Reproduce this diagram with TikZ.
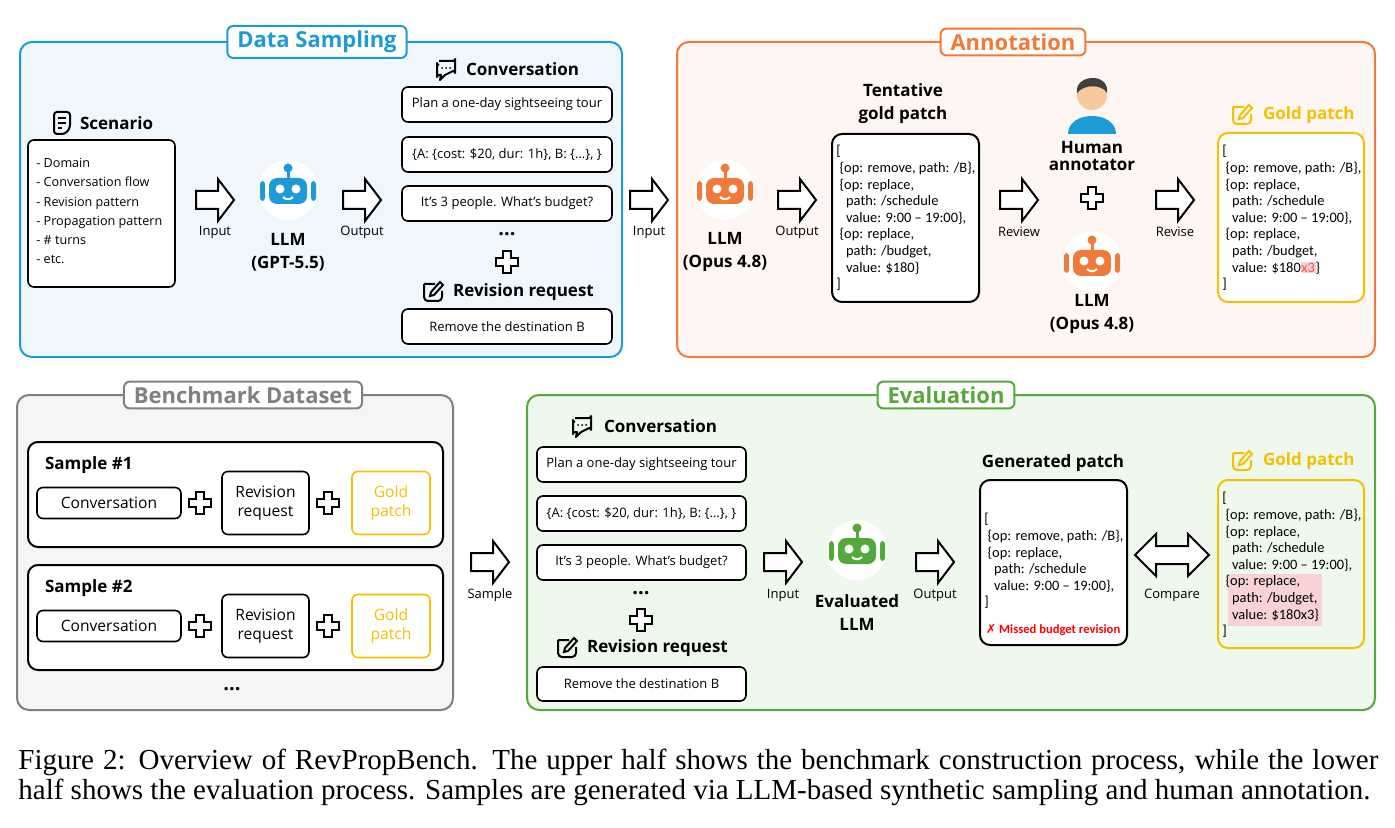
\documentclass[tikz,border=0pt]{standalone}
\usepackage{fontspec}
\setmainfont{Open Sans}
\newfontfamily\pf{Carlito}
\newfontfamily\dvs{DejaVu Sans}
\newfontfamily\capfont{Liberation Serif}
\usetikzlibrary{calc}
\definecolor{dsb}{HTML}{1E9AD6}\definecolor{dsf}{HTML}{EFF7FC}
\definecolor{anb}{HTML}{F07A3A}\definecolor{anf}{HTML}{FDF6F2}
\definecolor{bmb}{HTML}{808080}\definecolor{bmf}{HTML}{F5F5F5}
\definecolor{evb}{HTML}{55A83C}\definecolor{evf}{HTML}{EFF8EC}
\definecolor{gold}{HTML}{F5C000}\definecolor{rob}{HTML}{F07A3A}
\definecolor{robb}{HTML}{1E9AD6}\definecolor{robg}{HTML}{52A83B}
\definecolor{hl}{HTML}{F9D3D3}\definecolor{skin}{HTML}{F7C79E}
\tikzset{
 x=0.5pt,y=-0.5pt,
 panel/.style={draw=#1,line width=1pt,rounded corners=6pt},
 tag/.style={draw=#1,fill=white,text=#1,line width=1pt,rounded corners=3pt,font=\fontsize{11}{12}\selectfont\bfseries,inner xsep=5pt,inner ysep=2.5pt},
 box/.style={draw,line width=0.8pt,rounded corners=3pt,fill=white},
 btxt/.style={font=\fontsize{6.5}{8}\selectfont},
 head/.style={font=\fontsize{8.5}{10}\selectfont\bfseries,align=center},
 lbl/.style={font=\fontsize{6.5}{8}\selectfont},
 ptxt/.style={font=\pf\fontsize{7.2}{8.3}\selectfont,align=left,anchor=north west,inner sep=0pt},
 pics/robot/.style={code={
   \fill[white] (0,0) circle (30);
   \fill[#1,rounded corners=4pt] (-19,-12) rectangle (19,14);
   \fill[#1,rounded corners=1.5pt] (-28,-9) rectangle (-23,11);
   \fill[#1,rounded corners=1.5pt] (23,-9) rectangle (28,11);
   \draw[#1,line width=1.5pt] (0,-12)--(0,-19);
   \fill[#1] (0,-22) circle (4.5);
   \fill[white] (-8,-1) circle (4.5) (8,-1) circle (4.5);
   \draw[white,line width=1pt] (-5,7) .. controls (-2,10) and (2,10) .. (5,7);}},
 pics/plus/.style={code={
   \draw[line width=1pt,fill=white] (-4,-11)--(4,-11)--(4,-4)--(11,-4)--(11,4)--(4,4)--(4,11)--(-4,11)--(-4,4)--(-11,4)--(-11,-4)--(-4,-4)--cycle;}},
 pics/barrow/.style={code={
   \draw[line width=1pt,fill=white,line join=miter] (-19,-9)--(3,-9)--(3,-21)--(19,0)--(3,21)--(3,9)--(-19,9)--cycle;}},
 pics/darrow/.style={code={
   \draw[line width=1pt,fill=white] (-37,0)--(-16,-21)--(-16,-9)--(16,-9)--(16,-21)--(37,0)--(16,21)--(16,9)--(-16,9)--(-16,21)--cycle;}},
 pics/chat/.style={code={
   \draw[line width=1pt,line join=round] (-7,-8)--(7,-8) arc (90:0:2) --(9,4) arc (0:-90:2) --(-1,6)--(-6,11)--(-5,6)--(-7,6) arc (-90:-180:2)--(-9,-6) arc (180:90:2);
   \fill (-4,-1) circle (1) (0,-1) circle (1) (4,-1) circle (1);}},
 pics/editic/.style={code={
   \draw[line width=1pt,rounded corners=2pt,#1] (-9,-8)--(2,-8) (9,-1)--(9,9)--(-9,9)--(-9,-8);
   \draw[line width=1pt,#1] (-3,4)--(-2,0)--(7,-10)--(10,-7)--(1,3)--cycle;}},
 pics/doc/.style={code={
   \draw[line width=1pt,rounded corners=1.5pt] (-8,-11)--(8,-11)--(8,5)--(3,11)--(-8,11)--cycle;
   \draw[line width=0.8pt] (-4,-5)--(4,-5) (-4,0)--(4,0) (-4,5)--(0,5);}},
}
\begin{document}
\begin{tikzpicture}
\setlength\fboxsep{0.3pt}
\useasboundingbox[fill=white] (0,0) rectangle (1395,828);
% panels
\draw[panel=dsb,fill=dsf] (20,42) rectangle (622,357);
\draw[panel=anb,fill=anf] (677,42) rectangle (1375,357);
\draw[panel=bmb,fill=bmf] (17,395) rectangle (453,710);
\draw[panel=evb,fill=evf] (527,395) rectangle (1375,710);
\node[tag=dsb] (tds) at (317,42) {Data Sampling};
\node[tag=anb] (tan) at (1013,42) {Annotation};
\node[tag=bmb] (tbm) at (243,395) {Benchmark Dataset};
\node[tag=evb] (tev) at (946,395) {Evaluation};
% ===== Data sampling
\pic at (62,123) {doc};
\node[head,anchor=west] (hsc) at (73,123) {Scenario};
\node[box,minimum width=73.5pt,minimum height=73.5pt] (scen) at (101.5,213.5) {};
\node[btxt,align=left,anchor=north west,inner sep=0pt,font=\fontsize{6.3}{9.6}\selectfont] (sct) at (36,158) {- Domain\\- Conversation flow\\- Revision pattern\\- Propagation pattern\\- \# turns\\- etc.};
\pic at (215,200) {barrow};\node[lbl] (l1) at (215,232) {Input};
\pic at (288,190) {robot=robb};
\node[head,font=\fontsize{8.5}{11.5}\selectfont\bfseries] (llm1) at (288,252) {LLM\\(GPT-5.5)};
\pic at (362,200) {barrow};\node[lbl] (l2) at (362,232) {Output};
\pic at (446,69) {chat};
\node[head,anchor=west] (hc1) at (459,69) {Conversation};
\node[box,minimum width=105pt,minimum height=17.5pt,btxt] (c11) at (507,104.5) {Plan a one-day sightseeing tour};
\node[box,minimum width=105pt,minimum height=17.5pt,btxt] (c12) at (507,154.5) {\{A: \{cost: \$20, dur: 1h\}, B: \{...\}, \}};
\node[box,minimum width=105pt,minimum height=17.5pt,btxt] (c13) at (507,203.5) {It’s 3 people. What’s budget?};
\node[font=\fontsize{10}{10}\selectfont\bfseries] (d1) at (507,234) {...};
\pic at (507,262) {plus};
\pic at (433,292) {editic=black};
\node[head,anchor=west] (hr1) at (446,292) {Revision request};
\node[box,minimum width=105pt,minimum height=17.5pt,btxt] (r1) at (507,326.5) {Remove the destination B};
% ===== between
\pic at (649,200) {barrow};\node[lbl] (l3) at (649,232) {Input};
% ===== Annotation
\pic at (725,190) {robot=rob};
\node[head,font=\fontsize{8.5}{11.5}\selectfont\bfseries] (llm2) at (725,252) {LLM\\(Opus 4.8)};
\pic at (797,200) {barrow};\node[lbl] (l4) at (797,232) {Output};
\node[head,font=\fontsize{8.5}{11.5}\selectfont\bfseries] (htg) at (903,104) {Tentative\\gold patch};
\node[box,line width=1pt,minimum width=73.5pt,minimum height=84pt,rounded corners=5pt] (tgp) at (905.5,218) {};
\node[ptxt] (tgt) at (836,145) {[\\\ \{op: remove, path: /B\},\\\ \{op: replace,\\\ \ \ path: /schedule\\\ \ \ value: 9:00 – 19:00\},\\\ \{op: replace,\\\ \ \ path: /budget,\\\ \ \ value: \$180\}\\{]}};
\pic at (1019,200) {barrow};\node[lbl] (l5) at (1019,232) {Review};
% human
\fill[skin] (1092,95) circle (15);
\fill[black!75] (1077,93) .. controls (1074,74) and (1110,72) .. (1107,93) .. controls (1102,84) and (1084,84) .. (1077,93);
\fill[robb] (1068,134) .. controls (1068,110) and (1116,110) .. (1116,134) -- cycle;
\node[head,font=\fontsize{8.5}{8.5}\selectfont\bfseries] (hum) at (1092,156) {Human\\annotator};
\pic at (1092,198) {plus};
\pic at (1092,262) {robot=rob};
\node[head,font=\fontsize{8.5}{11.5}\selectfont\bfseries] (llm3) at (1092,314) {LLM\\(Opus 4.8)};
\pic at (1175,200) {barrow};\node[lbl] (l6) at (1175,232) {Revise};
\pic at (1242,115) {editic=gold};
\node[head,text=gold,anchor=west] (hg1) at (1256,115) {Gold patch};
\node[box,draw=gold,line width=1pt,minimum width=73pt,minimum height=84.5pt,rounded corners=5pt] (gp1) at (1291,217.5) {};
\node[ptxt] (g1t) at (1222,145) {[\\\ \{op: remove, path: /B\},\\\ \{op: replace,\\\ \ \ path: /schedule\\\ \ \ value: 9:00 – 19:00\},\\\ \{op: replace,\\\ \ \ path: /budget,\\\ \ \ value: \$180\colorbox{hl}{\textcolor{red!70}{x3}}\}\\{]}};
% ===== Benchmark
\foreach \y/\n in {442/1,565/2}{
 \draw[line width=1pt,rounded corners=5pt,fill=white] (28,\y) rectangle (443,\y+105);
 \node[head,anchor=west] at (38,\y+23) {Sample \#\n};
 \node[box,minimum width=72pt,minimum height=15.5pt,font=\fontsize{7.8}{9}\selectfont] at (109,\y+61) {Conversation};
 \pic at (200,\y+61) {plus};
 \node[box,minimum width=43.5pt,minimum height=31.5pt,align=center,font=\fontsize{7.8}{9.5}\selectfont] at (265.5,\y+61) {Revision\\request};
 \pic at (328,\y+61) {plus};
 \node[box,draw=gold,text=gold,minimum width=39pt,minimum height=31.5pt,align=center,font=\fontsize{7.8}{9.5}\selectfont] at (391,\y+61) {Gold\\patch};
}
\node[font=\fontsize{10}{10}\selectfont\bfseries] (d2) at (232,689) {...};
\pic at (490,562) {barrow};\node[lbl] (l7) at (490,595) {Sample};
% ===== Evaluation
\pic at (582,426) {chat};
\node[head,anchor=west] (hc2) at (597,426) {Conversation};
\node[box,minimum width=104.5pt,minimum height=17.5pt,btxt] (c21) at (641.5,464.5) {Plan a one-day sightseeing tour};
\node[box,minimum width=104.5pt,minimum height=17.5pt,btxt] (c22) at (641.5,513.5) {\{A: \{cost: \$20, dur: 1h\}, B: \{...\}, \}};
\node[box,minimum width=104.5pt,minimum height=17.5pt,btxt] (c23) at (641.5,562.5) {It’s 3 people. What’s budget?};
\node[font=\fontsize{10}{10}\selectfont\bfseries] (d3) at (641,593) {...};
\pic at (641,620) {plus};
\pic at (567,648) {editic=black};
\node[head,anchor=west] (hr2) at (580,648) {Revision request};
\node[box,minimum width=104.5pt,minimum height=17pt,btxt] (r2) at (641.5,684) {Remove the destination B};
\pic at (783,562) {barrow};\node[lbl] (l8) at (783,595) {Input};
\pic at (857,550) {robot=robg};
\node[head,font=\fontsize{8.5}{11.5}\selectfont\bfseries] (llm4) at (857,613) {Evaluated\\LLM};
\pic at (935,562) {barrow};\node[lbl] (l9) at (935,595) {Output};
\node[head] (hgen) at (1053,463) {Generated patch};
\node[box,line width=1pt,minimum width=73.5pt,minimum height=82.5pt,rounded corners=5pt] (gen) at (1053.5,562.5) {};
\node[ptxt] (gnt) at (984,513) {[\\\ \{op: remove, path: /B\},\\\ \{op: replace,\\\ \ \ path: /schedule\\\ \ \ value: 9:00 – 19:00\},\\{]}};
\node[font=\pf\fontsize{6.3}{7}\selectfont\bfseries,text=red] (miss) at (1053,630) {{\dvs ✗} Missed budget revision};
\pic at (1172,555) {darrow};\node[lbl] (l10) at (1172,595) {Compare};
\pic at (1242,461) {editic=gold};
\node[head,text=gold,anchor=west] (hg2) at (1256,461) {Gold patch};
\fill[hl] (1228,574) rectangle (1322,626);
\node[box,draw=gold,line width=1pt,minimum width=73pt,minimum height=84pt,rounded corners=5pt,fill=none] (gp2) at (1291,564) {};
\node[ptxt] (g2t) at (1222,492) {[\\\ \{op: remove, path: /B\},\\\ \{op: replace,\\\ \ \ path: /schedule\\\ \ \ value: 9:00 – 19:00\},\\\ \{op: replace,\\\ \ \ path: /budget,\\\ \ \ value: \$180x3\}\\{]}};
% caption
\node[anchor=north west,inner sep=0pt,text width=680pt,align=justify,font=\capfont\fontsize{14.5}{15}\selectfont] (cap) at (18,749) {Figure 2: Overview of RevPropBench. The upper half shows the benchmark construction process, while the lower\linebreak half shows the evaluation process. Samples are generated via LLM-based synthetic sampling and human annotation.};
\end{tikzpicture}
\end{document}
